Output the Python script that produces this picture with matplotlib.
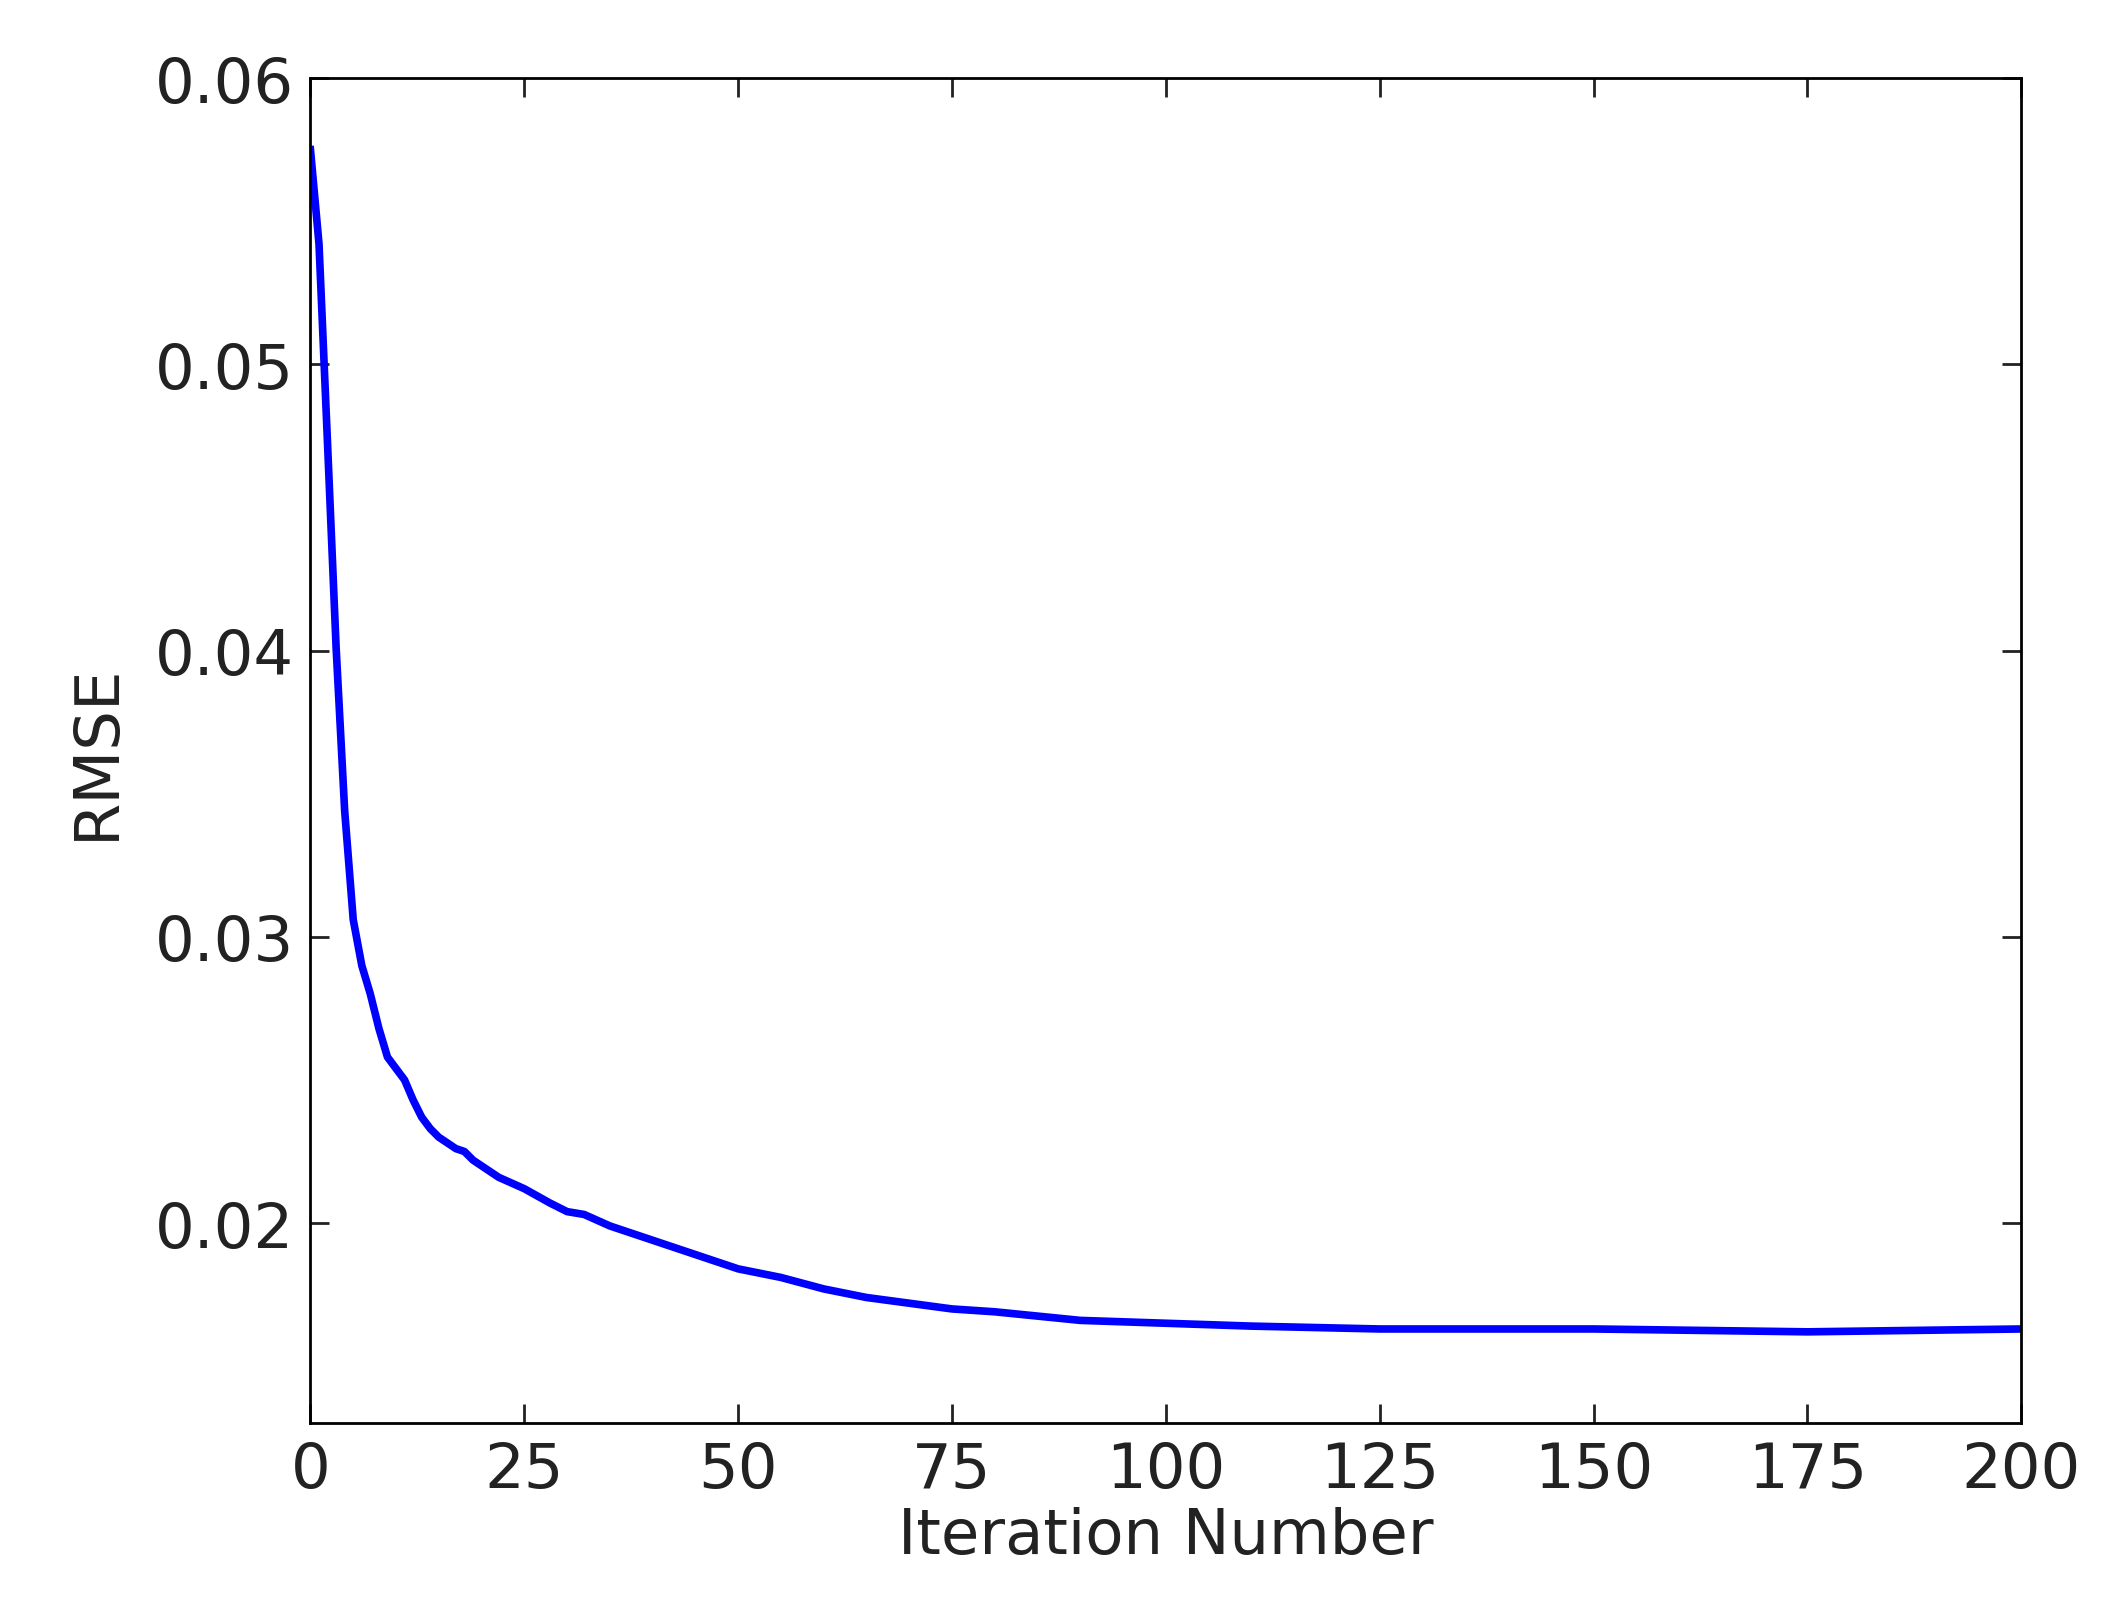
import matplotlib
matplotlib.use("Agg")
import matplotlib.pyplot as plt

iterations = [0,1,2,3,4,5,6,7,8,9,10,11,12,13,14,15,16,17,18,19,20,22,25,28,30,32,35,40,45,50,55,60,65,70,75,80,90,100,110,125,150,175,200]
rmse = [0.0575,0.0542,0.0472,0.0401,0.0344,0.0306,0.0290,0.0280,0.0268,0.0258,0.0254,0.0250,0.0243,0.0237,0.0233,0.0230,0.0228,0.0226,0.0225,0.0222,0.0220,0.0216,0.0212,0.0207,0.0204,0.0203,0.0199,0.0194,0.0189,0.0184,0.0181,0.0177,0.0174,0.0172,0.0170,0.0169,0.0166,0.0165,0.0164,0.0163,0.0163,0.0162,0.0163]
xticks = [0,25,50,75,100,125,150,175,200]
yticks = [0.02,0.03,0.04,0.05,0.06]

fig = plt.figure(figsize=(21.12,16.15), dpi=100)
ax = fig.add_axes([0.147,0.118,0.810,0.833])
ax.plot(iterations, rmse, color='#0000ff', lw=5.5)
ax.set_xlim(0,200)
ax.set_ylim(0.013,0.06)
ax.set_xticks(xticks)
ax.set_yticks(yticks)
ax.set_yticklabels([f"{v:.2f}" for v in yticks])
ax.tick_params(direction='in', length=14, width=2, top=True, right=True, labelsize=45, pad=12, colors='#222222')
for s in ax.spines.values():
    s.set_linewidth(2)
ax.set_xlabel("Iteration Number", fontsize=45, color='#222222', labelpad=4)
ax.set_ylabel("RMSE", fontsize=45, color='#222222', labelpad=20)
fig.savefig("out.png", dpi=100)
